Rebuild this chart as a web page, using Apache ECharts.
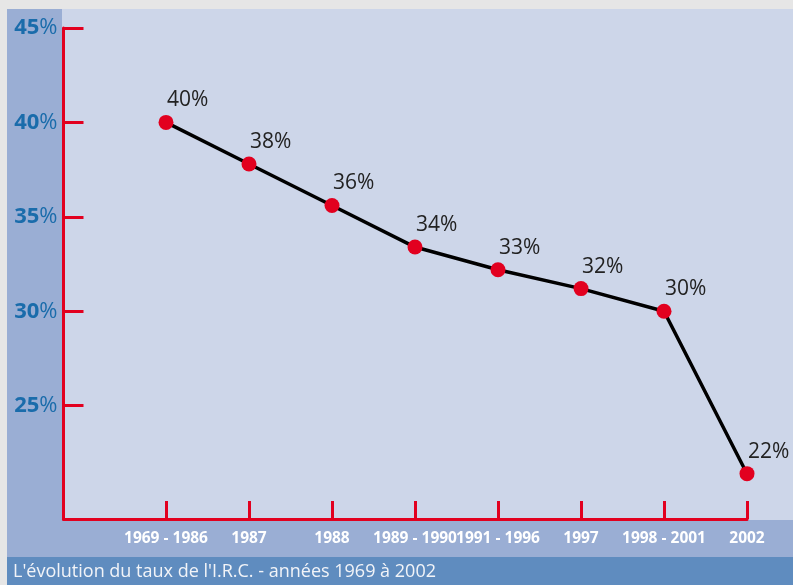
<!DOCTYPE html>
<html>
<head>
<meta charset="utf-8">
<script src="https://cdn.jsdelivr.net/npm/echarts@6/dist/echarts.min.js"></script>
<style>
  html, body { margin: 0; padding: 0; }
  #chart { width: 793px; height: 585px; }
</style>
</head>
<body>
<div id="chart"></div>
<script>
// périodes (axe X)
const categories = ['1969 - 1986', '1987', '1988', '1989 - 1990', '1991 - 1996', '1997', '1998 - 2001', '2002'];
// valeurs
const rates = [40, 37.8, 35.6, 33.4, 32.2, 31.2, 30, 21.4];
// étiquettes affichées
const rateLabels = ['40%', '38%', '36%', '34%', '33%', '32%', '30%', '22%'];
const yTicks = [25, 30, 35, 40, 45];
const caption = "L'évolution du taux de l'I.R.C. - années 1969 à 2002";

const red = '#e2001f';
const W = 793, H = 585;

let myChart = echarts.init(document.getElementById('chart'));
let xIdx = categories.map((c, i) => i);

let option = {
    backgroundColor: '#e6e6e6',
    animation: false,
    graphic: [
        { type: 'rect', z: -10, shape: { x: 7, y: 9, width: W - 7, height: 548 }, style: { fill: '#9aaed4' } },
        { type: 'rect', z: -9, shape: { x: 62, y: 9, width: W - 62, height: 511 }, style: { fill: '#cdd6e9' } },
        { type: 'rect', z: -9, shape: { x: 7, y: 557, width: W - 7, height: H - 557 }, style: { fill: '#5f8cbf' } },
        {
            type: 'text', left: 13, top: 563,
            style: { text: caption, fill: '#f2f4f8', fontSize: 18, fontFamily: 'Open Sans' }
        }
    ],
    grid: { left: 63.5, right: 46, top: 28, bottom: 66 },
    xAxis: {
        type: 'value',
        min: -1.235,
        max: 7,
        splitLine: { show: false },
        axisLine: { onZero: false, lineStyle: { color: red, width: 3 } },
        axisTick: { inside: true, length: 18, customValues: xIdx, lineStyle: { color: red, width: 3 } },
        axisLabel: {
            customValues: xIdx,
            margin: 12,
            color: '#ffffff',
            fontWeight: 'bold',
            fontSize: 15.5,
            fontFamily: 'Open Sans',
            formatter: v => categories[Math.round(v)]
        }
    },
    yAxis: {
        type: 'value',
        min: 19,
        max: 45,
        splitLine: { show: false },
        axisLine: { show: true, onZero: false, lineStyle: { color: red, width: 3 } },
        axisTick: { inside: true, length: 20, customValues: yTicks, lineStyle: { color: red, width: 3 } },
        axisLabel: {
            customValues: yTicks,
            margin: 6,
            formatter: v => '{b|' + v + '}{p|%}',
            rich: {
                b: { color: '#1a6cab', fontWeight: 'bold', fontSize: 22, fontFamily: 'Open Sans' },
                p: { color: '#1a6cab', fontSize: 22, fontFamily: 'Open Sans' }
            }
        }
    },
    series: [{
        type: 'line',
        data: rates.map((v, i) => [i, v]),
        symbol: 'circle',
        symbolSize: 15,
        itemStyle: { color: red },
        lineStyle: { color: '#000000', width: 3.5 },
        label: {
            show: true,
            position: 'right',
            distance: 0,
            offset: [-6.5, -22],
            color: '#222222',
            fontSize: 21,
            fontFamily: 'Open Sans',
            formatter: p => rateLabels[p.dataIndex]
        }
    }]
};
myChart.setOption(option);
</script>
</body>
</html>
